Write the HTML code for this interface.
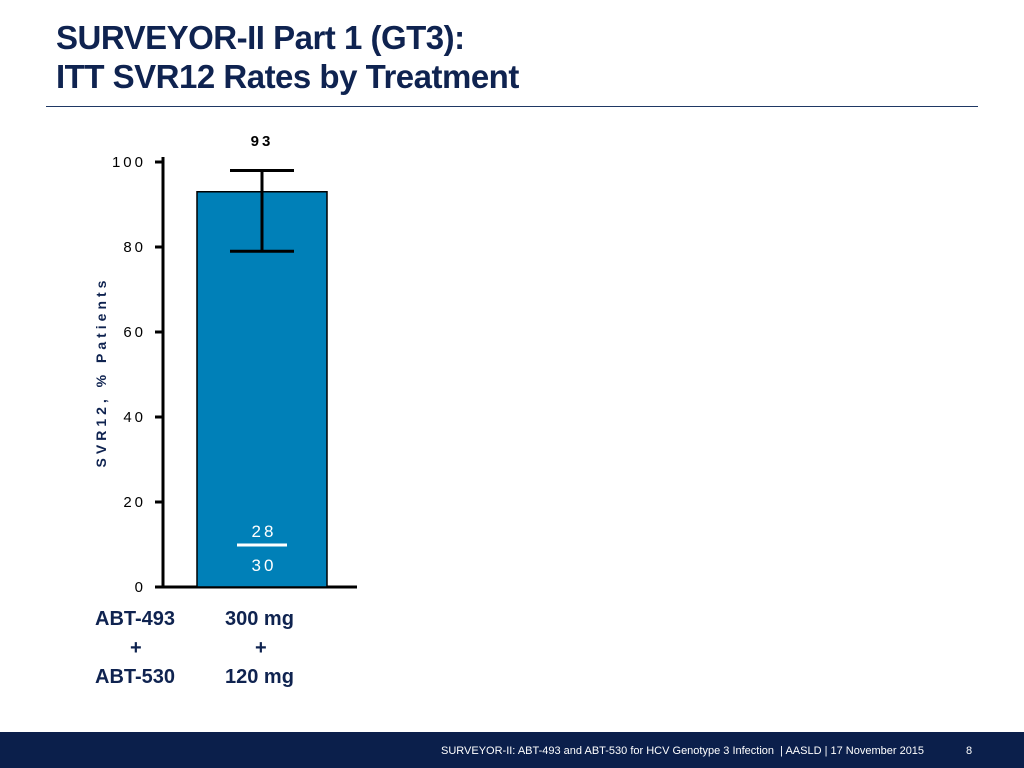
<!DOCTYPE html>
<html><head><meta charset="utf-8"><style>
body{margin:0;width:1024px;height:768px;background:#fff;position:relative;overflow:hidden;font-family:"Liberation Sans",sans-serif}
.title{position:absolute;left:56px;top:18px;font-size:33px;font-weight:bold;color:#0f2350;line-height:39px;letter-spacing:-0.5px}
.rule{position:absolute;left:46px;top:106px;width:932px;height:1px;background:#1f3864}
.footer{position:absolute;left:0;top:732px;width:1024px;height:36px;background:#0b1f4b;color:#fff;font-size:11px}
.lbl{position:absolute;font-size:20px;font-weight:bold;color:#0f2350}
</style></head><body>
<div class="title">SURVEYOR-II Part 1 (GT3):<br>ITT SVR12 Rates by Treatment</div>
<div class="rule"></div>
<svg id="chart" width="1024" height="732" style="position:absolute;left:0;top:0"></svg>
<div class="lbl" style="left:95px;top:608px">ABT-493</div>
<div class="lbl" style="left:130px;top:637px">+</div>
<div class="lbl" style="left:95px;top:666px">ABT-530</div>
<div class="lbl" style="left:225px;top:608px">300 mg</div>
<div class="lbl" style="left:255px;top:637px">+</div>
<div class="lbl" style="left:225px;top:666px">120 mg</div>
<div class="footer">
<span style="position:absolute;left:441px;top:13px">SURVEYOR-II: ABT-493 and ABT-530 for HCV Genotype 3 Infection &nbsp;| AASLD | 17 November 2015</span>
<span style="position:absolute;left:966px;top:13px">8</span>
</div>
<script>
const categories=["ABT-493 300 mg + ABT-530 120 mg"];
const values=[93];
const errLow=[79];
const errHigh=[98];
const numerators=[28];
const denominators=[30];
const yTicks=[0,20,40,60,80,100];
const NS="http://www.w3.org/2000/svg";
const svg=document.getElementById('chart');
const y0=587,pxPer=4.25;
const y=v=>y0-v*pxPer;
const bandX=i=>197+i*160, bandW=130;
function mk(t,a){const e=document.createElementNS(NS,t);for(const k in a)e.setAttribute(k,a[k]);svg.appendChild(e);return e;}
let ax=mk('line',{x1:163,y1:157,x2:163,y2:587,stroke:'#000','stroke-width':3});


let bl=mk('line',{x1:161,y1:587,x2:357,y2:587,stroke:'#000','stroke-width':3});


yTicks.forEach(t=>{
 let tk=mk('line',{x1:155,y1:y(t),x2:163,y2:y(t),stroke:'#000','stroke-width':3});
 
 
 let tx=mk('text',{x:146,y:y(t)+5,'text-anchor':'end','font-size':15,'letter-spacing':'3',fill:'#000','font-family':'Liberation Sans'});
 tx.textContent=t;
 
 
});
let yt=mk('text',{x:0,y:0,transform:'translate(106,372) rotate(-90)','text-anchor':'middle','font-size':14,'font-weight':'bold','letter-spacing':'4',fill:'#0f2350','font-family':'Liberation Sans'});
yt.textContent='SVR12, % Patients';


values.forEach((v,i)=>{
 const x=bandX(i),cx=x+bandW/2;
 let r=mk('rect',{x:x,y:y(v),width:bandW,height:y0-y(v),fill:'#0080b8',stroke:'#000','stroke-width':1.5});
 
 
 let e=mk('path',{d:`M${cx-32},${y(errHigh[i])}H${cx+32}M${cx},${y(errHigh[i])}V${y(errLow[i])}M${cx-32},${y(errLow[i])}H${cx+32}`,stroke:'#000','stroke-width':3,fill:'none'});
 
 
 let vl=mk('text',{x:cx,y:146,'text-anchor':'middle','font-size':15,'font-weight':'bold','letter-spacing':'3',fill:'#000','font-family':'Liberation Sans'});
 vl.textContent=v;
 
 
 let n=mk('text',{x:cx+2,y:537,'text-anchor':'middle','font-size':17,'letter-spacing':'3',fill:'#fff','font-family':'Liberation Sans'});
 n.textContent=numerators[i];
 
 
 let fl=mk('line',{x1:cx-25,y1:545,x2:cx+25,y2:545,stroke:'#fff','stroke-width':3});
 
 
 let d=mk('text',{x:cx+2,y:571,'text-anchor':'middle','font-size':17,'letter-spacing':'3',fill:'#fff','font-family':'Liberation Sans'});
 d.textContent=denominators[i];
 
 
});
</script>
</body></html>
